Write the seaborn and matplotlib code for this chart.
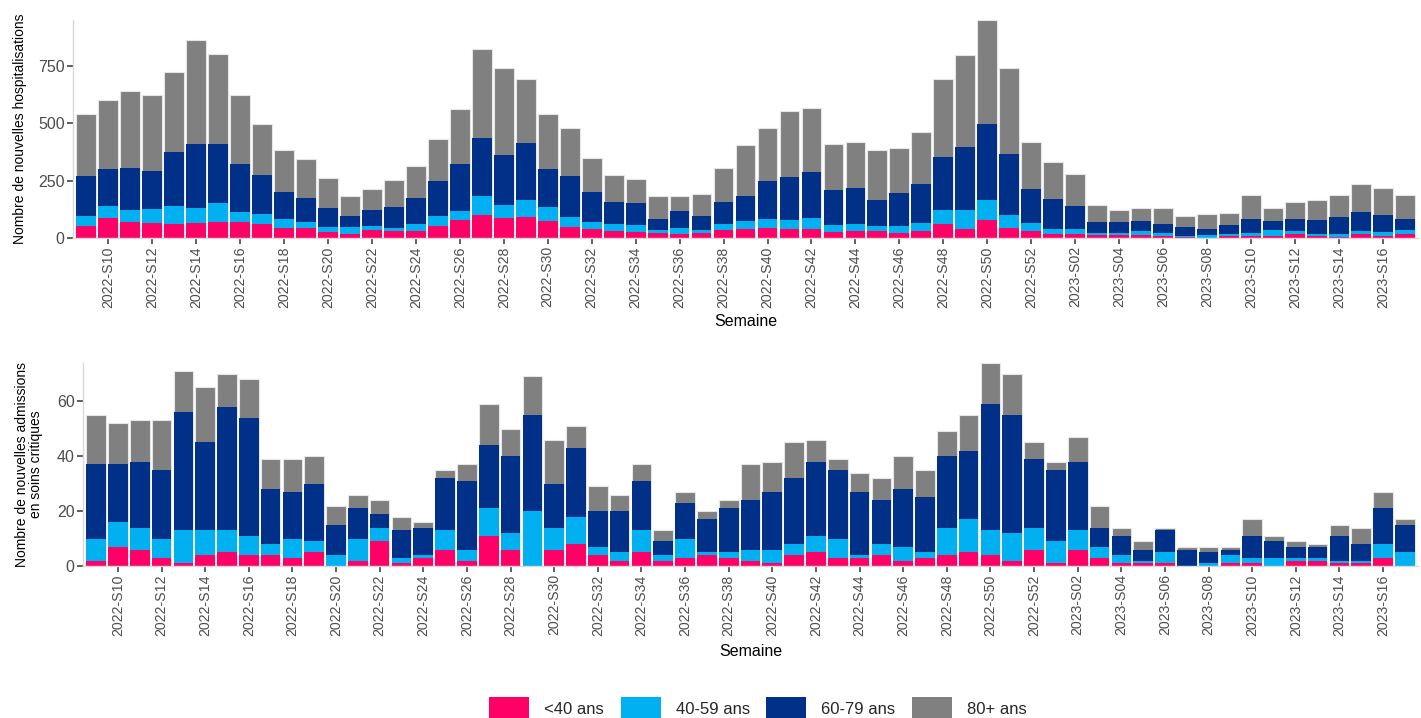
import pandas as pd
import matplotlib.pyplot as plt
import seaborn as sns
from matplotlib.patches import Patch

semaines = [f'2022-S{w:02d}' for w in range(9, 53)] + [f'2023-S{w:02d}' for w in range(1, 18)]

groupes = ['<40 ans', '40-59 ans', '60-79 ans', '80+ ans']
couleurs = ['#FF0066', '#00B0F0', '#003087', '#808080']

# nouvelles hospitalisations par semaine et classe d'age
hosp_moins40 = [52, 89, 68, 64, 60, 65, 70, 68, 60, 44, 44, 26, 19, 33, 29, 32, 52, 77,
                102, 86, 90, 74, 46, 38, 32, 26, 23, 19, 22, 36, 39, 44, 38, 38, 28, 31,
                31, 23, 32, 60, 39, 77, 44, 31,
                17, 16, 12, 12, 12, 10, 4, 1, 9, 9, 9, 17, 10, 4, 16, 10, 16]
hosp_40_59 = [42, 49, 56, 61, 78, 67, 83, 47, 46, 37, 24, 22, 27, 19, 15, 28, 42, 41,
              80, 56, 77, 60, 44, 32, 28, 29, 10, 23, 13, 24, 34, 40, 39, 48, 27, 30,
              23, 31, 32, 64, 82, 87, 55, 34,
              21, 22, 11, 8, 19, 10, 6, 11, 8, 11, 24, 12, 9, 15, 15, 16, 19]
hosp_60_79 = [176, 161, 183, 169, 237, 278, 257, 206, 169, 118, 108, 81, 51, 72, 90, 116, 153, 206,
              252, 220, 246, 167, 180, 129, 97, 96, 51, 76, 62, 97, 112, 164, 189, 203, 153, 157,
              113, 144, 170, 228, 277, 334, 266, 150,
              132, 103, 45, 48, 43, 41, 38, 27, 41, 64, 41, 55, 59, 74, 84, 76, 49]
hosp_80plus = [272, 301, 332, 328, 350, 453, 394, 304, 223, 183, 168, 133, 88, 90, 120, 139, 183, 240,
               388, 380, 279, 240, 208, 148, 116, 105, 98, 64, 93, 147, 219, 233, 288, 279, 200, 202,
               215, 193, 228, 340, 401, 452, 376, 202,
               160, 137, 74, 53, 55, 68, 46, 64, 52, 105, 55, 71, 89, 93, 119, 114, 105]

# nouvelles admissions en soins critiques
sc_moins40 = [2, 7, 6, 3, 1, 4, 5, 4, 4, 3, 5, 0, 2, 9, 1, 3, 6, 2,
              11, 6, 0, 6, 8, 4, 2, 5, 2, 3, 4, 3, 2, 1, 4, 5, 3, 3,
              4, 2, 3, 4, 5, 4, 2, 6,
              1, 6, 3, 1, 1, 1, 0, 0, 1, 1, 0, 2, 2, 1, 1, 3, 0]
sc_40_59 = [8, 9, 8, 7, 12, 9, 8, 7, 4, 7, 4, 4, 8, 5, 2, 1, 7, 4,
            10, 6, 20, 8, 10, 3, 3, 8, 2, 7, 1, 2, 4, 5, 4, 6, 7, 1,
            4, 5, 2, 10, 12, 9, 10, 8,
            8, 7, 4, 3, 1, 4, 0, 1, 3, 2, 3, 1, 1, 1, 1, 5, 5]
sc_60_79 = [27, 21, 24, 25, 43, 32, 45, 43, 20, 17, 21, 11, 11, 5, 10, 10, 19, 25,
            23, 28, 35, 16, 25, 13, 15, 18, 5, 13, 12, 16, 18, 21, 24, 27, 25, 23,
            16, 21, 20, 26, 25, 46, 43, 25,
            26, 25, 7, 7, 4, 8, 6, 4, 2, 8, 6, 4, 4, 9, 6, 13, 10]
sc_80plus = [18, 15, 15, 18, 15, 20, 12, 14, 11, 12, 10, 7, 5, 5, 5, 2, 3, 6,
             15, 10, 14, 16, 8, 9, 6, 6, 4, 4, 3, 3, 13, 11, 13, 8, 4, 7,
             8, 12, 10, 9, 13, 15, 15, 6,
             3, 9, 8, 3, 3, 1, 1, 2, 1, 6, 2, 2, 1, 4, 6, 6, 2]

hosp = pd.DataFrame({'semaine': semaines, '<40 ans': hosp_moins40, '40-59 ans': hosp_40_59,
                     '60-79 ans': hosp_60_79, '80+ ans': hosp_80plus})
sc = pd.DataFrame({'semaine': semaines, '<40 ans': sc_moins40, '40-59 ans': sc_40_59,
                   '60-79 ans': sc_60_79, '80+ ans': sc_80plus})

sns.set_theme(style='white')
plt.rcParams['font.family'] = ['Liberation Sans', 'DejaVu Sans']

fig = plt.figure(figsize=(14.21, 7.18), dpi=100)
ax_h = fig.add_axes([0.0514, 0.6685, 0.9465, 0.3036])
ax_s = fig.add_axes([0.0584, 0.2117, 0.9395, 0.2832])


def panneau(ax, df, ylabel, yticks, lab_x, sem_y):
    cumul = df[groupes].cumsum(axis=1)
    for i, (g, c) in enumerate(reversed(list(zip(groupes, couleurs)))):
        sns.barplot(x=df['semaine'], y=cumul[g], order=semaines, color=c, saturation=1,
                    width=0.9, errorbar=None, ax=ax,
                    edgecolor='#e6e6e6' if i == 0 else 'none', linewidth=0.8 if i == 0 else 0)
    ax.set_xlim(-0.6, len(semaines) - 0.4)
    ax.set_ylim(0, cumul['80+ ans'].max())
    ax.set_yticks(yticks)
    ax.set_xticks(range(1, len(semaines), 2))
    ax.set_xticklabels(semaines[1::2], rotation=90)
    ax.tick_params(axis='x', labelsize=10.2, labelcolor='#4d4d4d', length=4, width=1.1,
                   color='#333333', bottom=True, pad=2)
    ax.tick_params(axis='y', labelsize=11.5, labelcolor='#4d4d4d', length=4, width=1.1,
                   color='#333333', left=True, pad=2)
    ax.set_xlabel('Semaine', fontsize=11.5, color='black', va='top')
    ax.set_ylabel(ylabel, fontsize=10, color='black', linespacing=1.0)
    ax.xaxis.set_label_coords(0.5, sem_y)
    ax.yaxis.set_label_coords(lab_x, 0.5)
    sns.despine(ax=ax)
    for s in ['left', 'bottom']:
        ax.spines[s].set_color('#d9d9d9')
        ax.spines[s].set_linewidth(1)


panneau(ax_h, hosp, 'Nombre de nouvelles hospitalisations', [0, 250, 500, 750], -0.034, -0.35)
panneau(ax_s, sc, 'Nombre de nouvelles admissions\nen soins critiques', [0, 20, 40, 60], -0.030, -0.385)

poignees = [Patch(facecolor=c, edgecolor='none') for c in couleurs]
fig.legend(poignees, groupes, loc='lower center', bbox_to_anchor=(0.5334, -0.012), ncol=4,
           frameon=False, fontsize=12, handlelength=2.4, handleheight=1.75,
           handletextpad=0.9, columnspacing=1.0, borderaxespad=0)

fig.savefig('out.png', dpi=100)
